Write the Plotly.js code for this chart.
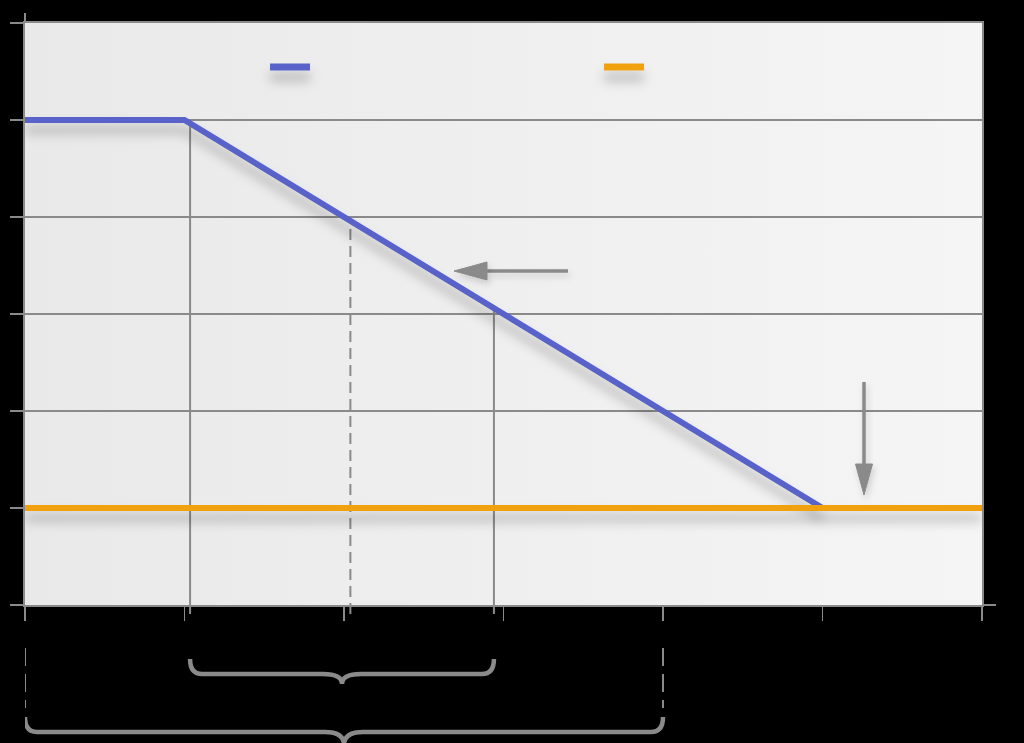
<!DOCTYPE html>
<html>
<head>
<meta charset="utf-8">
<script src="https://cdn.plot.ly/plotly-3.0.1.min.js"></script>
<style>
  html, body { margin: 0; padding: 0; background: #000; }
  #chart { width: 1024px; height: 743px; }
</style>
</head>
<body>
<div id="chart"></div>
<script>
// Declining series: flat, then falls linearly to the floor level
const blueX = [0, 1, 5];
const blueY = [5, 5, 1];
// Floor level across the whole range
const orangeX = [0, 6];
const orangeY = [1, 1];
// Vertical guide positions on the x axis (solid, dashed, solid)
const guideX = [1.035, 2.04, 2.94];
const guideDash = ['solid', 'dash', 'solid'];
// Bracketed spans below the axis
const spanShort = [guideX[0], guideX[2]];
const spanLong = [0, 4];
// Axis tick values
const xTicks = [0, 1, 2, 3, 4, 5, 6];
const yTicks = [0, 1, 2, 3, 4, 5, 6];

const W = 1024, H = 743;
const M = { l: 25, r: 42, t: 23, b: 138 };
const PW = W - M.l - M.r, PH = H - M.t - M.b;
const GREY = '#8a8a8a';
const BLUE = '#5862c8';
const ORANGE = '#f0a10f';

// pixel -> paper helpers for decorations placed around the plot
const pX = p => (p - M.l) / PW;
const pY = p => (M.t + PH - p) / PH;

// value of the declining series at x (to stop guides on the line)
function blueAt(x) {
  for (let i = 0; i < blueX.length - 1; i++) {
    if (x >= blueX[i] && x <= blueX[i + 1]) {
      const t = (x - blueX[i]) / (blueX[i + 1] - blueX[i]);
      return blueY[i] + t * (blueY[i + 1] - blueY[i]);
    }
  }
  return blueY[blueY.length - 1];
}

const yMax = 6;
const shapes = [];

// vertical guides from just below the axis up to the declining line
guideX.forEach((gx, i) => {
  shapes.push({
    type: 'line', xref: 'x', yref: 'paper', layer: 'below',
    x0: gx, x1: gx, y0: pY(614), y1: blueAt(gx) / yMax,
    line: { color: GREY, width: 2, dash: guideDash[i] === 'dash' ? '11px,6px' : 'solid' }
  });
});

// curly brace path under the axis, x in data units, y in paper units
function brace(x0, x1, top, bar, tip) {
  const mid = (x0 + x1) / 2;
  const r = 12 / (PW / 6);
  const yT = pY(top), yB = pY(bar), yP = pY(tip);
  return `M${x0},${yT} Q${x0},${yB} ${x0 + r},${yB} L${mid - r * 1.6},${yB} ` +
         `Q${mid},${yB} ${mid},${yP} Q${mid},${yB} ${mid + r * 1.6},${yB} ` +
         `L${x1 - r},${yB} Q${x1},${yB} ${x1},${yT}`;
}
shapes.push({
  type: 'path', xref: 'x', yref: 'paper', layer: 'above',
  path: brace(spanShort[0], spanShort[1], 659, 674, 684),
  line: { color: GREY, width: 4.5 }
});
shapes.push({
  type: 'path', xref: 'x', yref: 'paper', layer: 'above',
  path: brace(spanLong[0], spanLong[1], 717, 732, 745),
  line: { color: GREY, width: 4.5 }
});
// dashed drop lines at the ends of the long span
spanLong.forEach(sx => {
  shapes.push({
    type: 'line', xref: 'x', yref: 'paper', layer: 'above',
    x0: sx, x1: sx, y0: pY(648), y1: pY(708),
    line: { color: GREY, width: 2, dash: '18px,8px' }
  });
});

// axis line overshoots
shapes.push({ type: 'line', xref: 'paper', yref: 'paper', layer: 'above',
  x0: 0, x1: 0, y0: 1, y1: pY(13), line: { color: GREY, width: 2 } });
shapes.push({ type: 'line', xref: 'paper', yref: 'paper', layer: 'above',
  x0: 1, x1: pX(996), y0: 0, y1: 0, line: { color: GREY, width: 2 } });

// legend swatches
const swatchStart = shapes.length;
[[270, BLUE], [604, ORANGE]].forEach(([sx, col]) => {
  shapes.push({
    type: 'line', xref: 'paper', yref: 'paper', layer: 'above',
    x0: pX(sx), x1: pX(sx + 40), y0: pY(67), y1: pY(67),
    line: { color: col, width: 7 }
  });
});

// arrows: a shaft plus a filled head
function arrow(x0, y0, x1, y1, len, half) {
  const dx = x1 - x0, dy = y1 - y0;
  const d = Math.hypot(dx, dy);
  const ux = dx / d, uy = dy / d;
  const bx = x1 - ux * len, by = y1 - uy * len;
  const nx = -uy * half, ny = ux * half;
  const P = (x, y) => `${pX(x)},${pY(y)}`;
  return [
    { type: 'path', xref: 'paper', yref: 'paper', layer: 'above',
      path: `M${P(x0, y0)} L${P(bx, by)}`, line: { color: GREY, width: 3.5 } },
    { type: 'path', xref: 'paper', yref: 'paper', layer: 'above',
      path: `M${P(x1, y1)} L${P(bx + nx, by + ny)} L${P(bx - nx, by - ny)} Z`,
      fillcolor: GREY, line: { color: GREY, width: 1 } }
  ];
}
const arrowStart = shapes.length;
shapes.push(...arrow(568, 271, 454, 271, 33, 9));
shapes.push(...arrow(864, 382, 864, 495, 31, 8.5));

// floor line is drawn last so it sits over the end of the declining line
const traces = [
  { x: blueX, y: blueY, type: 'scatter', mode: 'lines',
    line: { color: BLUE, width: 6 }, hoverinfo: 'skip', showlegend: false },
  { x: orangeX, y: orangeY, type: 'scatter', mode: 'lines',
    line: { color: ORANGE, width: 6 }, hoverinfo: 'skip', showlegend: false }
];

const layout = {
  width: W, height: H,
  margin: M,
  paper_bgcolor: '#000',
  plot_bgcolor: '#efefef',
  showlegend: false,
  xaxis: {
    range: [0, 6], tickvals: xTicks, showticklabels: false,
    ticks: 'outside', ticklen: 14, tickwidth: 1.5, tickcolor: GREY,
    showgrid: false, zeroline: false,
    showline: true, linecolor: GREY, linewidth: 2, mirror: true, fixedrange: true
  },
  yaxis: {
    range: [0, 6], tickvals: yTicks, showticklabels: false,
    ticks: 'outside', ticklen: 13, tickwidth: 1.5, tickcolor: GREY,
    showgrid: true, gridcolor: GREY, gridwidth: 2, zeroline: false,
    showline: true, linecolor: GREY, linewidth: 2, mirror: true, fixedrange: true
  },
  shapes: shapes
};

Plotly.newPlot('chart', traces, layout, { staticPlot: true }).then(gd => {
  const svg = gd.querySelector('svg.main-svg');
  const NS = 'http://www.w3.org/2000/svg';
  let defs = svg.querySelector('defs');
  if (!defs) { defs = document.createElementNS(NS, 'defs'); svg.insertBefore(defs, svg.firstChild); }
  // filters use a fixed user-space region so flat (zero-height) lines keep rendering
  const region = 'filterUnits="userSpaceOnUse" x="-3000" y="-3000" width="7000" height="7000"';
  defs.insertAdjacentHTML('beforeend',
    '<linearGradient xmlns="http://www.w3.org/2000/svg" id="plotGrad" x1="0" y1="0" x2="1" y2="0">' +
    '<stop offset="0" stop-color="#e9e9e9"/><stop offset="1" stop-color="#f5f5f5"/></linearGradient>' +
    `<filter xmlns="http://www.w3.org/2000/svg" id="softShadow" ${region}>` +
    '<feDropShadow dx="0" dy="10" stdDeviation="6" flood-color="#000" flood-opacity="0.28"/></filter>' +
    `<filter xmlns="http://www.w3.org/2000/svg" id="lightShadow" ${region}>` +
    '<feDropShadow dx="2" dy="4" stdDeviation="3" flood-color="#000" flood-opacity="0.15"/></filter>');
  const bg = gd.querySelector('.bglayer rect.bg');
  if (bg) bg.style.fill = 'url(#plotGrad)';
  gd.querySelectorAll('.scatterlayer .js-line').forEach(p => p.setAttribute('filter', 'url(#softShadow)'));
  [swatchStart, swatchStart + 1].forEach(i => {
    const el = gd.querySelector(`.shapelayer path[data-index="${i}"]`);
    if (el) el.setAttribute('filter', 'url(#softShadow)');
  });
  for (let i = arrowStart; i < arrowStart + 4; i++) {
    const el = gd.querySelector(`.shapelayer path[data-index="${i}"]`);
    if (el) el.setAttribute('filter', 'url(#lightShadow)');
  }
});
</script>
</body>
</html>
